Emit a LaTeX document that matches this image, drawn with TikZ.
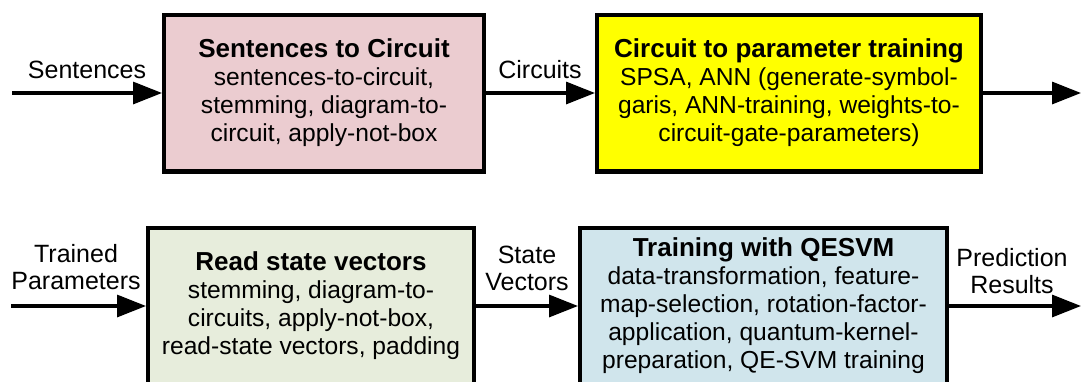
\documentclass[tikz,border=0pt]{standalone}
\usepackage{fontspec}
\setmainfont{Liberation Sans}
\usepackage{xcolor}
\usetikzlibrary{arrows.meta,positioning}

\definecolor{boxpink}{RGB}{235,204,208}
\definecolor{boxyellow}{RGB}{255,255,0}
\definecolor{boxcream}{RGB}{231,237,220}
\definecolor{boxblue}{RGB}{208,229,236}

\begin{document}
\begin{tikzpicture}[x=0.5pt,y=-0.5pt,
    stage/.style={draw, line width=2.2pt, align=center, inner sep=0pt,
        minimum height=78.3pt, font=\fontsize{12.3}{14}\selectfont},
    flow/.style={line width=1.6pt, -{Triangle[length=14.5pt,width=11pt]}},
    tag/.style={align=center, font=\fontsize{12.5}{13.5}\selectfont}]
    \useasboundingbox (0,0) rectangle (1083,381);
    \clip (0,0) rectangle (1083,381);
    % Top row
    \node[stage, fill=boxpink, minimum width=159.8pt] (sentcirc) at (324,93)
        {\textbf{\fontsize{13}{14}\selectfont Sentences to Circuit}\\
         sentences-to-circuit,\\ stemming, diagram-to-\\ circuit, apply-not-box};
    \node[stage, fill=boxyellow, minimum width=191.8pt] (paramtrain) at (789,93)
        {\textbf{\fontsize{13}{14}\selectfont Circuit to parameter training}\\
         SPSA, ANN (generate-symbol-\\ garis, ANN-training, weights-to-\\ circuit-gate-parameters)};
    \coordinate (topin) at (12,93);
    \coordinate (topout) at (1081,93);
    \node[tag] (sentlbl) at (87,70) {Sentences};
    \node[tag] (circlbl) at (540,70) {Circuits};
    \draw[flow] (topin) -- (sentcirc.west);
    \draw[flow] (sentcirc.east) -- (paramtrain.west);
    \draw[flow] (paramtrain.east) -- (topout);
    % Bottom row
    \node[stage, fill=boxcream, minimum width=162.8pt] (readstate) at (311,306)
        {\textbf{\fontsize{13}{14}\selectfont Read state vectors}\\
         stemming, diagram-to-\\ circuits, apply-not-box,\\ read-state vectors, padding};
    \node[stage, fill=boxblue, minimum width=183.3pt] (qesvm) at (763.5,306)
        {\textbf{\fontsize{13}{14}\selectfont Training with QESVM}\\
         data-transformation, feature-\\ map-selection, rotation-factor-\\
         application, quantum-kernel-\\ preparation, QE-SVM training};
    \coordinate (botin) at (11,306);
    \coordinate (botout) at (1081,306);
    \node[tag] (trainlbl) at (76,267) {Trained\\Parameters};
    \node[tag] (statelbl) at (527,268) {State\\Vectors};
    \node[tag] (predlbl) at (1012,271) {Prediction\\Results};
    \draw[flow] (botin) -- (readstate.west);
    \draw[flow] (readstate.east) -- (qesvm.west);
    \draw[flow] (qesvm.east) -- (botout);
\end{tikzpicture}
\end{document}
